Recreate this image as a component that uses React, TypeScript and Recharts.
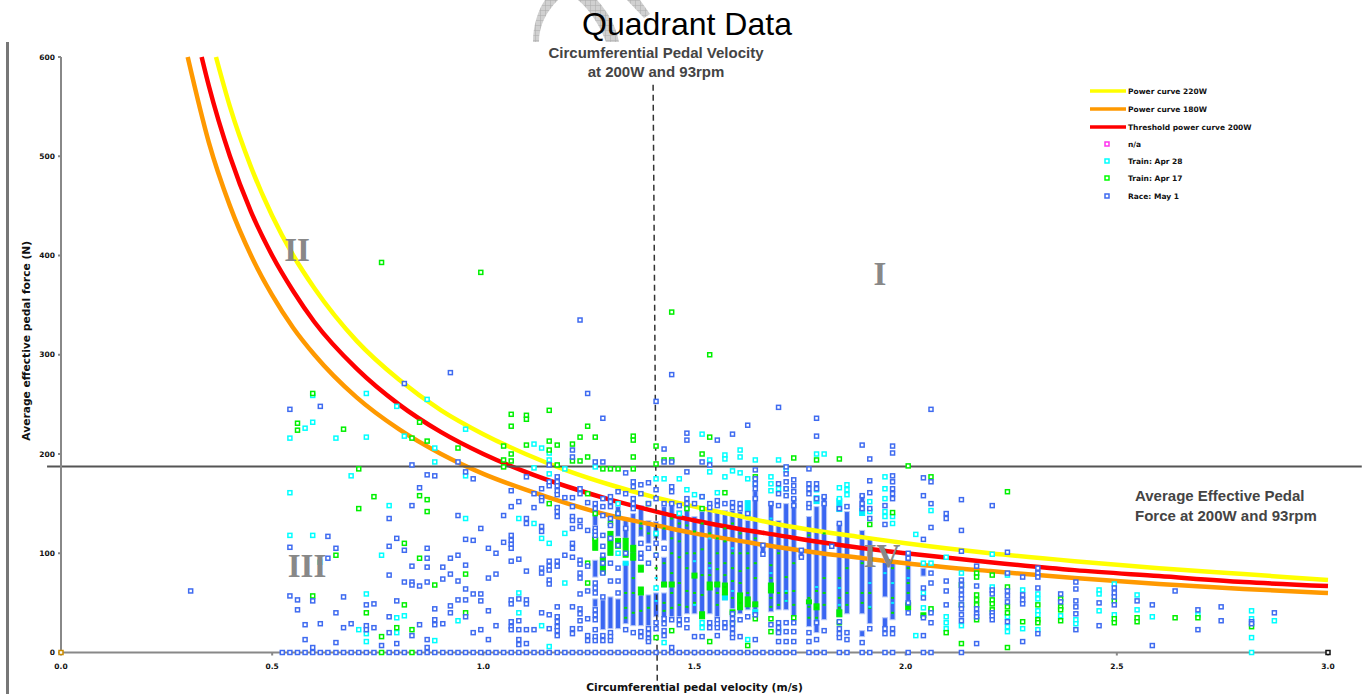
import { Bar, ComposedChart, Line, ReferenceLine, Scatter, XAxis, YAxis } from "recharts";

type Column = [number, number[]];
type Run = [number, number, number];

const xTicks = [0, 0.5, 1, 1.5, 2, 2.5, 3];
const yTicks = [0, 100, 200, 300, 400, 500, 600];

const curve220: [number, number][] = [[0.367, 600], [0.4, 550], [0.45, 489], [0.5, 440], [0.55, 400], [0.6, 367], [0.7, 314], [0.8, 275], [0.9, 244], [1, 220], [1.1, 200], [1.2, 183], [1.3, 169], [1.4, 157], [1.5, 147], [1.6, 138], [1.7, 129], [1.8, 122], [1.9, 116], [2, 110], [2.2, 100], [2.4, 92], [2.6, 85], [2.8, 79], [3, 73]];
const curve180: [number, number][] = [[0.3, 600], [0.35, 514], [0.4, 450], [0.45, 400], [0.5, 360], [0.55, 327], [0.6, 300], [0.7, 257], [0.8, 225], [0.9, 200], [1, 180], [1.1, 164], [1.2, 150], [1.3, 138], [1.4, 129], [1.5, 120], [1.6, 113], [1.7, 106], [1.8, 100], [1.9, 95], [2, 90], [2.2, 82], [2.4, 75], [2.6, 69], [2.8, 64], [3, 60]];
const curve200: [number, number][] = [[0.333, 600], [0.35, 571], [0.4, 500], [0.45, 444], [0.5, 400], [0.55, 364], [0.6, 333], [0.7, 286], [0.8, 250], [0.9, 222], [1, 200], [1.1, 182], [1.2, 167], [1.3, 154], [1.4, 143], [1.5, 133], [1.6, 125], [1.7, 118], [1.8, 111], [1.9, 105], [2, 100], [2.2, 91], [2.4, 83], [2.6, 77], [2.8, 71], [3, 67]];

const raceColumns: Column[] = [
  [0.307, [62]], [0.524, [0]], [0.542, [245, 106, 57, 0]], [0.56, [53, 43, 0]], [0.578, [28, 13, 0]], [0.596, [52, 5, 0]],
  [0.614, [248, 29, 0]], [0.632, [117, 95, 0]], [0.651, [105, 40, 10, 0]], [0.669, [56, 25, 0]], [0.687, [29, 0]], [0.705, [0]],
  [0.723, [48, 27, 23, 0]], [0.741, [49, 25, 0]], [0.759, [7]], [0.777, [135, 107, 78, 36, 20, 0]], [0.795, [115, 52, 9, 0]],
  [0.813, [271, 103, 71, 0]], [0.831, [189, 148, 87, 71, 68, 17]], [0.849, [166, 67, 28, 0]], [0.867, [179, 105, 95, 86, 71, 13, 5, 0]],
  [0.885, [178, 44, 33, 28, 0]], [0.904, [86, 74, 29, 0]], [0.922, [282, 95, 79, 47, 40, 0]], [0.94, [192, 138, 98, 72, 53, 0]],
  [0.958, [182, 114, 88, 64, 53, 36, 0]], [0.976, [175, 113, 59, 20, 0]], [0.994, [125, 59, 52, 23, 0]], [1.012, [105, 75, 42, 13, 0]],
  [1.03, [100, 79, 27, 0]], [1.048, [138, 111, 0]], [1.066, [163, 147, 118, 113, 109, 105, 92, 53, 49, 31, 26, 23, 0]],
  [1.084, [152, 94, 54, 32, 23, 13, 8, 0]], [1.102, [177, 135, 130, 82, 53, 49, 23, 9, 0]], [1.12, [160, 146, 23, 0]],
  [1.138, [165, 156, 153, 127, 122, 85, 80, 40, 0]], [1.156, [189, 172, 168, 92, 87, 83, 73, 69, 38, 24, 0]],
  [1.175, [177, 172, 168, 163, 159, 146, 142, 137, 92, 87, 46, 36, 31, 26, 22, 17, 0]], [1.193, [156, 98, 0]],
  [1.211, [204, 197, 156, 147, 137, 133, 125, 110, 105, 96, 46, 24, 19, 0]],
  [1.229, [335, 165, 160, 133, 127, 93, 89, 80, 75, 59, 44, 39, 32, 24, 0]], [1.247, [261, 151, 123, 87, 62, 34, 17, 12, 0]],
  [1.265, [192, 150, 145, 125, 122, 118, 70, 65, 60, 43, 38, 33, 23, 16, 12, 0]], [1.283, [236, 192, 155, 147, 138, 118, 107, 98, 90, 80, 56, 17, 12, 0]],
  [1.301, [157, 152, 147, 135, 128, 115, 90, 72, 20, 16, 12, 0]], [1.319, [162, 140, 108, 85, 72, 60, 0]], [1.337, [181, 160, 125, 100, 23, 0]],
  [1.355, [172, 167, 155, 150, 145, 20, 0]], [1.373, [169, 160, 110, 100, 95, 21, 16, 0]], [1.391, [171, 150, 105, 90, 24, 19, 14, 11, 0]],
  [1.409, [253, 164, 155, 110, 98, 30, 24, 0]], [1.428, [205, 192, 150, 105, 34, 29, 22, 17, 0]], [1.446, [280, 192, 167, 162, 150, 33, 5, 0]],
  [1.464, [148, 33, 28, 0]], [1.482, [221, 214, 182, 155, 150, 33, 25, 0]], [1.5, [150, 16, 0]], [1.518, [192, 157, 16, 0]],
  [1.536, [189, 150, 146, 30, 25, 0]], [1.554, [214, 153, 148, 33, 29, 25, 17, 0]], [1.572, [150, 30, 25, 0]],
  [1.59, [220, 151, 146, 39, 34, 29, 24, 19, 15, 0]], [1.608, [150, 145, 33, 16, 0]], [1.626, [229, 140, 36, 0]],
  [1.644, [184, 175, 170, 165, 155, 38, 13, 0]], [1.662, [108, 99, 0]], [1.681, [150, 28, 0]], [1.699, [247, 170, 160, 148, 30, 25, 20, 11, 0]],
  [1.717, [187, 180, 172, 165, 158, 30, 21, 11, 0]], [1.735, [174, 168, 162, 155, 148, 30, 21, 11, 0]], [1.753, [103, 96]],
  [1.771, [185, 170, 165, 160, 150, 146, 20, 11, 0]], [1.789, [236, 218, 170, 165, 155, 30, 13, 0]], [1.807, [157, 150, 22, 0]],
  [1.825, [107]], [1.843, [145, 130, 31, 24, 19, 15, 0]], [1.861, [147, 20, 13, 0]], [1.897, [209, 158, 150, 145, 10, 0]],
  [1.915, [195, 173, 161, 145, 135, 24, 0]], [1.951, [148, 129, 24, 19, 0]], [1.969, [208, 201, 178, 172, 165, 160, 155, 24, 19, 0]],
  [2.006, [100, 95, 50, 40, 0]], [2.042, [176, 158, 114, 65, 55, 35, 17, 0]], [2.06, [245, 172, 150, 126, 80, 70, 40, 30, 0]],
  [2.096, [140, 135, 72, 62, 48]], [2.132, [154, 123, 102, 73, 68, 63, 58, 54, 48, 44, 38, 32, 0]],
  [2.168, [87, 67, 44, 39, 36, 9]], [2.205, [148, 63, 59, 40, 37, 33]], [2.241, [101, 80, 62, 57, 51, 31]], [2.277, [76, 58, 53, 49, 11]],
  [2.313, [85, 80, 76, 65, 19]], [2.367, [59, 51]], [2.403, [71, 64, 52, 46, 39, 23]], [2.458, [50, 27]], [2.494, [65, 60, 56, 48]],
  [2.548, [52]], [2.584, [48, 7]], [2.638, [62]], [2.692, [43, 23]], [2.747, [46, 32]], [2.819, [31, 29]], [2.873, [40]],
];

const train17Columns: Column[] = [
  [0.56, [231, 224]], [0.596, [261, 57]], [0.651, [98]], [0.669, [225]], [0.705, [185, 145]], [0.723, [40]], [0.741, [157]],
  [0.759, [393, 16, 0]], [0.795, [25]], [0.813, [110, 48]], [0.831, [216, 23, 0]], [0.849, [232, 158, 95]], [0.867, [213, 154, 142]],
  [0.885, [68]], [0.94, [206]], [0.958, [79, 40]], [0.994, [383]], [1.048, [208, 194, 187]], [1.066, [240, 228, 200, 193]],
  [1.102, [239, 235, 209]], [1.156, [244, 213, 204, 150]], [1.175, [209, 189]], [1.211, [210, 193]], [1.229, [217, 193]], [1.247, [228, 197, 160, 90, 70]],
  [1.265, [217, 140, 115]], [1.283, [185]], [1.301, [185, 130]], [1.319, [185, 140]], [1.355, [218, 214, 197, 185]], [1.391, [150]],
  [1.409, [208, 190, 15]], [1.428, [194]], [1.446, [343, 194, 22]], [1.482, [145]], [1.518, [200, 145]], [1.536, [300, 217, 11]],
  [1.572, [161]], [1.59, [30]], [1.626, [7]], [1.644, [177, 34]], [1.681, [34, 21]], [1.735, [196, 35]], [1.789, [194]], [1.843, [195, 30]],
  [1.915, [129]], [1.969, [141]], [2.006, [188]], [2.06, [177, 44]], [2.096, [20]], [2.132, [9, 68, 48]], [2.168, [80, 76, 58, 53, 48, 33]],
  [2.205, [78, 53, 49, 43]], [2.241, [162, 66, 46, 40, 5]], [2.277, [31]], [2.313, [48, 33, 30]], [2.367, [54, 46, 43, 32]],
  [2.494, [52, 34, 30]], [2.548, [35, 31]], [2.638, [35]], [2.692, [35]], [2.819, [26]],
];

const train28Columns: Column[] = [
  [0.542, [216, 161, 118]], [0.578, [226]], [0.596, [259, 232, 118]], [0.614, [91]], [0.651, [216]], [0.687, [178]], [0.705, [23]],
  [0.723, [261, 217, 59, 19, 11]], [0.759, [98]], [0.777, [148]], [0.795, [248, 35, 20]], [0.813, [218, 37]], [0.867, [255]],
  [0.885, [206, 192, 12]], [0.94, [32]], [0.958, [225, 178, 135]], [1.084, [135, 60, 40]], [1.12, [210, 186, 130]], [1.138, [206, 115, 27]],
  [1.156, [201, 194, 180, 110, 6]], [1.193, [185, 120, 70]], [1.265, [187, 120]], [1.319, [150, 100]], [1.409, [175, 120, 65]],
  [1.428, [175, 10]], [1.464, [175, 140]], [1.482, [164]], [1.5, [159]], [1.518, [220, 157, 30, 25]], [1.536, [182, 194]],
  [1.554, [161]], [1.572, [199, 195, 177]], [1.59, [183]], [1.608, [204, 197, 181]], [1.626, [175, 13]], [1.644, [194, 170]],
  [1.681, [177, 170, 163]], [1.699, [194, 165, 22]], [1.717, [165, 184]], [1.789, [200, 164]], [1.807, [200]], [1.843, [166, 155]],
  [1.861, [169, 164, 159]], [1.915, [152, 142]], [1.951, [177, 165, 155, 142, 137]], [1.969, [137, 130]], [2.024, [119, 17]],
  [2.042, [90, 60, 45]], [2.06, [143, 90, 42]], [2.096, [96, 36, 30, 24]], [2.132, [80, 27]], [2.205, [99, 66]], [2.241, [78, 36, 26, 21]],
  [2.277, [63, 24]], [2.313, [59, 54, 42, 38, 23]], [2.367, [37]], [2.403, [33, 29]], [2.458, [63, 59, 42]], [2.494, [69, 38]],
  [2.548, [58, 43]], [2.584, [36]], [2.692, [38]], [2.819, [42, 34, 15, 0]], [2.873, [32]],
];

// solid stretches where the squares overlap into one bar: velocity, low, high
const raceRuns: Run[] = [
  [1.265, 128, 140], [1.265, 76, 93], [1.265, 46, 54], [1.283, 79, 96], [1.283, 23, 53], [1.301, 98, 122], [1.301, 24, 56], [1.319, 117, 147], [1.319, 24, 54],
  [1.337, 29, 90], [1.337, 115, 135], [1.355, 27, 140], [1.373, 117, 148], [1.373, 27, 58], [1.391, 110, 133], [1.391, 27, 58],
  [1.409, 36, 60], [1.409, 115, 132], [1.428, 113, 147], [1.428, 66, 96], [1.428, 36, 60], [1.446, 36, 150], [1.464, 36, 143],
  [1.482, 39, 150], [1.5, 39, 137], [1.518, 34, 142], [1.536, 39, 143], [1.554, 36, 143], [1.572, 53, 143], [1.59, 44, 143],
  [1.608, 39, 142], [1.626, 43, 133], [1.644, 43, 163], [1.662, 100, 108], [1.681, 41, 152], [1.699, 43, 133], [1.717, 43, 150],
  [1.735, 36, 155], [1.753, 96, 103], [1.771, 26, 137], [1.789, 20, 147], [1.807, 33, 157], [1.843, 36, 130], [1.861, 39, 142],
  [1.897, 145, 158], [1.897, 39, 123], [1.897, 16, 22], [1.915, 29, 115], [1.951, 56, 91], [1.951, 25, 35], [1.969, 33, 93], [2.006, 50, 100],
  [2.042, 77, 85],
];
const train17Runs: Run[] = [
  [1.265, 103, 116], [1.283, 79, 96], [1.301, 98, 122], [1.319, 105, 115], [1.337, 96, 115], [1.355, 93, 100], [1.355, 101, 108], [1.373, 81, 88],
  [1.373, 58, 66], [1.428, 66, 71], [1.446, 66, 71], [1.5, 75, 80], [1.518, 34, 41], [1.536, 63, 71], [1.554, 66, 71], [1.572, 58, 70],
  [1.59, 38, 43], [1.608, 43, 60], [1.626, 46, 56], [1.644, 46, 51], [1.681, 60, 70], [1.771, 49, 53], [1.789, 43, 49], [1.843, 36, 43],
  [2.006, 43, 50], [2.042, 35, 40],
];
const train28Runs: Run[] = [
  [1.337, 88, 92], [1.572, 53, 58], [1.626, 137, 153], [1.644, 38, 43], [1.843, 142, 155], [1.789, 150, 158], [1.897, 138, 145],
];

// little bits of the other sessions that show through the centres of the solid bars
const train17Specks: Column[] = [
  [1.337, [60, 45, 35]], [1.355, [75, 60, 40]], [1.373, [125, 42, 130]], [1.391, [120, 45]], [1.409, [118, 100, 85]], [1.428, [125, 90, 50, 42]],
  [1.446, [135, 115, 100, 80, 60, 45]], [1.464, [130, 112, 96, 70, 48]], [1.482, [128, 100, 85, 62, 46]], [1.5, [122, 100, 60, 50]],
  [1.518, [130, 104, 78, 58]], [1.536, [120, 90, 78]], [1.554, [115, 100, 84, 60, 48]], [1.572, [125, 112, 90, 78, 66]], [1.59, [130, 100, 85, 72, 55]],
  [1.608, [120, 100, 82, 70, 50]], [1.626, [100, 85, 60]], [1.644, [115, 90, 75]], [1.681, [88, 75, 55, 46]], [1.699, [100, 60, 48]],
  [1.717, [76, 60, 52]], [1.735, [90, 62, 48]], [1.771, [118, 55, 46, 35]], [1.789, [62, 45, 35]], [1.807, [120, 75, 60, 48]], [1.843, [130, 75, 55, 45]],
  [1.861, [85, 60, 48]], [1.897, [90, 60, 50]], [1.915, [60, 45]], [1.969, [85, 70, 55, 40]], [2.006, [85, 70, 60]],
];
const train28Specks: Column[] = [
  [1.409, [75, 52]], [1.5, [92, 48]], [1.536, [115, 85]], [1.59, [105, 62]], [1.681, [135, 80]], [1.717, [62, 52]], [1.789, [66, 32]], [1.843, [65, 48]],
  [1.915, [70, 46]], [1.951, [80]], [1.969, [70, 50]], [2.006, [75]],
];

const legendLines = [
  { name: "Power curve 220W", color: "#ffff00", y: 91 },
  { name: "Power curve 180W", color: "#ff9900", y: 109 },
  { name: "Threshold power curve 200W", color: "#ff0000", y: 127 },
];
const legendMarks = [
  { name: "n/a", color: "#ff33ee", y: 144 },
  { name: "Train: Apr 28", color: "#00ffff", y: 161 },
  { name: "Train: Apr 17", color: "#00ff00", y: 178 },
  { name: "Race: May 1", color: "#3f6bf0", y: 196 },
];

const toCurve = (rows: [number, number][]) => rows.map(([v, f]) => ({ v, f }));
const toPoints = (columns: Column[]) => columns.flatMap(([v, forces]) => forces.map((f) => ({ v, f })));

const runRows = [
  ...raceRuns.map(([v, lo, hi]) => ({ v, range: [lo, hi], color: "#3a66f2", edge: "#b9c9f8" })),
  ...train28Runs.map(([v, lo, hi]) => ({ v, range: [lo, hi], color: "#00eeff", edge: "#00eeff" })),
  ...train17Runs.map(([v, lo, hi]) => ({ v, range: [lo, hi], color: "#00ee00", edge: "#00ee00" })),
];

const tickStyle = { fontFamily: "DejaVu Sans", fontWeight: 700, fontSize: 7.5, fill: "#111" };
const labelStyle = { fontFamily: "DejaVu Sans", fontWeight: 700, fontSize: 10.7, fill: "#111" };
const noteStyle = { fontFamily: "Liberation Sans", fontWeight: 700, fontSize: 15, fill: "#444" };
const romanStyle = { fontFamily: "Liberation Serif", fontWeight: 700, fontSize: 33, fill: "#888" };

function square(color: string) {
  return (props: any) => (
    <rect x={props.cx - 2} y={props.cy - 2} width={4} height={4} fill="#fff" stroke={color} strokeWidth={1.5} />
  );
}

function speck(color: string) {
  return (props: any) => <rect x={props.cx - 1.5} y={props.cy - 1} width={3} height={2} fill={color} />;
}

function runShape(props: any) {
  return (
    <rect
      x={props.x + props.width / 2 - 2.5}
      y={props.y}
      width={5}
      height={props.height}
      fill={props.payload.color}
      stroke={props.payload.edge}
      strokeWidth={1}
    />
  );
}

function Backdrop() {
  return (
    <svg width={1365} height={694} style={{ position: "absolute", left: 0, top: 0 }}>
      <defs>
        <pattern id="hatch" width={5} height={5} patternUnits="userSpaceOnUse">
          <rect width={5} height={5} fill="#d0d0d0" />
          <path d="M0 0H5M0 0V5" stroke="#ababab" strokeWidth={1} />
        </pattern>
      </defs>
      <path d="M533 42 C533 26 538 10 545 0 L558 0 C546 12 539 26 539 42 Z" fill="url(#hatch)" />
      <path d="M578 0 L597 0 C608 12 616 26 619 42 L606 42 C600 26 590 10 578 0 Z" fill="url(#hatch)" />
      <path d="M627 0 L640 0 L650 14 L644 18 Z" fill="url(#hatch)" />
      <rect x={6} y={42} width={3} height={652} fill="#777" />
    </svg>
  );
}

function Notes() {
  return (
    <svg width={1365} height={694} style={{ position: "absolute", left: 0, top: 0, pointerEvents: "none" }}>
      <text x={687} y={35} textAnchor="middle" fontFamily="Liberation Sans" fontSize={32} fill="#000">Quadrant Data</text>
      <text x={656} y={58} textAnchor="middle" {...noteStyle}>Circumferential Pedal Velocity</text>
      <text x={656} y={77} textAnchor="middle" {...noteStyle}>at 200W and 93rpm</text>
      <text x={1135} y={501} {...noteStyle}>Average Effective Pedal</text>
      <text x={1135} y={521} {...noteStyle}>Force at 200W and 93rpm</text>
      <text x={297} y={261} textAnchor="middle" {...romanStyle}>II</text>
      <text x={880} y={285} textAnchor="middle" {...romanStyle}>I</text>
      <text x={307} y={577} textAnchor="middle" {...romanStyle}>III</text>
      <text x={882} y={567} textAnchor="middle" {...romanStyle}>IV</text>
      {legendLines.map((item) => (
        <g key={item.name}>
          <line x1={1090} x2={1126} y1={item.y} y2={item.y} stroke={item.color} strokeWidth={3.5} />
          <text x={1128} y={item.y + 3} {...tickStyle}>{item.name}</text>
        </g>
      ))}
      {legendMarks.map((item) => (
        <g key={item.name}>
          <rect x={1105} y={item.y - 2} width={4} height={4} fill="#fff" stroke={item.color} strokeWidth={1.5} />
          <text x={1128} y={item.y + 3} {...tickStyle}>{item.name}</text>
        </g>
      ))}
    </svg>
  );
}

export default function App() {
  return (
    <div style={{ position: "absolute", left: 0, top: 0, width: 1365, height: 694, overflow: "hidden", background: "#fff" }}>
      <Backdrop />
      <div style={{ position: "absolute", left: 0, top: 0 }}>
        <ComposedChart width={1365} height={694} data={runRows} margin={{ top: 57, right: 37, bottom: 0, left: 0 }}>
          <XAxis
            dataKey="v"
            type="number"
            domain={[0, 3]}
            ticks={xTicks}
            tickFormatter={(value: number) => value.toFixed(1)}
            height={41.5}
            tickSize={3}
            tickMargin={8}
            tick={tickStyle}
            stroke="#888"
            strokeWidth={2}
            label={{ value: "Circumferential pedal velocity (m/s)", position: "insideBottom", offset: 3, style: labelStyle }}
            allowDuplicatedCategory
          />
          <YAxis
            type="number"
            domain={[0, 600]}
            ticks={yTicks}
            width={61}
            tickSize={3}
            tickMargin={3}
            tick={tickStyle}
            stroke="#888"
            strokeWidth={2}
            label={{ value: "Average effective pedal force (N)", angle: -90, position: "insideLeft", offset: 26, dy: -14, style: { ...labelStyle, textAnchor: "middle" } }}
          />
          <ReferenceLine y={0} stroke="#222" strokeDasharray="10 18" ifOverflow="visible" />
          <ReferenceLine x={0} stroke="#222" strokeDasharray="10 18" ifOverflow="visible" />
          <Line data={toCurve(curve220)} dataKey="f" stroke="#ffff00" strokeWidth={4.5} dot={false} type="monotone" isAnimationActive={false} />
          <Line data={toCurve(curve180)} dataKey="f" stroke="#ff9900" strokeWidth={4.5} dot={false} type="monotone" isAnimationActive={false} />
          <Line data={toCurve(curve200)} dataKey="f" stroke="#ff0000" strokeWidth={4.5} dot={false} type="monotone" isAnimationActive={false} />
          <ReferenceLine segment={[{ x: -0.033, y: 187.5 }, { x: 3.08, y: 187.5 }]} stroke="#555" strokeWidth={2} ifOverflow="visible" />
          <Bar dataKey="range" barSize={6} shape={runShape} isAnimationActive={false} />
          <Scatter data={toPoints(train17Specks)} dataKey="f" shape={speck("#00e000")} isAnimationActive={false} />
          <Scatter data={toPoints(train28Specks)} dataKey="f" shape={speck("#00eeff")} isAnimationActive={false} />
          <Scatter data={toPoints(train28Columns)} dataKey="f" shape={square("#00ffff")} isAnimationActive={false} />
          <Scatter data={toPoints(train17Columns)} dataKey="f" shape={square("#00f000")} isAnimationActive={false} />
          <Scatter data={toPoints(raceColumns)} dataKey="f" shape={square("#3f6bf0")} isAnimationActive={false} />
          <Scatter data={[{ v: 0, f: 0 }]} dataKey="f" shape={square("#c98a00")} isAnimationActive={false} />
          <Scatter data={[{ v: 3, f: 0 }]} dataKey="f" shape={square("#111")} isAnimationActive={false} />
          <ReferenceLine segment={[{ x: 1.402, y: 572 }, { x: 1.412, y: -38 }]} stroke="#333" strokeWidth={1.5} strokeDasharray="6 4" ifOverflow="visible" />
        </ComposedChart>
      </div>
      <Notes />
    </div>
  );
}
